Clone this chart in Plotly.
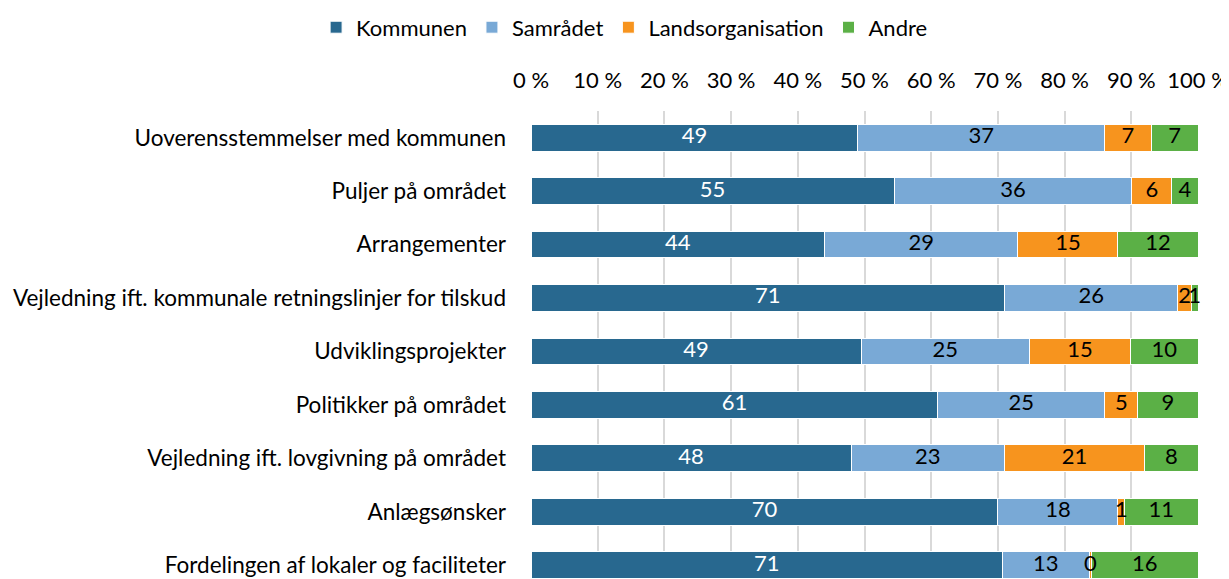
import plotly.graph_objects as go

categories = [
    "Uoverensstemmelser med kommunen",
    "Puljer på området",
    "Arrangementer",
    "Vejledning ift. kommunale retningslinjer for tilskud",
    "Udviklingsprojekter",
    "Politikker på området",
    "Vejledning ift. lovgivning på området",
    "Anlægsønsker",
    "Fordelingen af lokaler og faciliteter",
]
kommunen = [49, 55, 44, 71, 49, 61, 48, 70, 71]
samraadet = [37, 36, 29, 26, 25, 25, 23, 18, 13]
landsorg = [7, 6, 15, 2, 15, 5, 21, 1, 0.4]
andre = [7, 4, 12, 1, 10, 9, 8, 11, 16]
tick_vals = [0, 10, 20, 30, 40, 50, 60, 70, 80, 90, 100]
tick_text = [f"{v} %" for v in tick_vals]

series = [
    ("Kommunen", kommunen, "#28688F", "white"),
    ("Samrådet", samraadet, "#79A9D6", "black"),
    ("Landsorganisation", landsorg, "#F7941E", "black"),
    ("Andre", andre, "#5BB046", "black"),
]

FONT = "Lato"
FS = 22
fig = go.Figure()
for name, vals, color, tcolor in series:
    fig.add_trace(go.Bar(
        y=categories, x=vals, name=name, orientation="h",
        marker=dict(color=color, line=dict(color="white", width=1)),
        hoverinfo="x+y+name",
    ))

# value labels on top of all bars (centred in each normalised segment)
totals = [sum(s[1][i] for s in series) for i in range(len(categories))]
cum = [0.0] * len(categories)
for name, vals, color, tcolor in series:
    mids = []
    for i, v in enumerate(vals):
        mids.append((cum[i] + v / 2) / totals[i] * 100)
        cum[i] += v
    fig.add_trace(go.Scatter(
        y=categories, x=mids, mode="text",
        text=[f"{round(v):d}" for v in vals],
        textposition="middle center",
        textfont=dict(color=tcolor, size=FS, family=FONT),
        showlegend=False, hoverinfo="skip", cliponaxis=False,
    ))

fig.update_layout(
    barmode="stack", barnorm="percent",
    width=1221, height=571,
    margin=dict(l=523, r=31, t=103, b=0, autoexpand=False),
    plot_bgcolor="white", paper_bgcolor="white",
    font=dict(family=FONT, size=FS, color="black"),
    bargap=0.5,
    legend=dict(orientation="h", xref="container", yref="container",
                x=0.505, xanchor="center", y=0.966, yanchor="middle",
                font=dict(size=FS, family=FONT), itemwidth=30,
                traceorder="normal"),
    showlegend=True,
)
fig.update_xaxes(
    side="top", range=[0, 100], tickvals=tick_vals, ticktext=tick_text,
    showgrid=True, gridcolor="#D9D9D9", gridwidth=1.5, zeroline=False,
    ticklabelstandoff=18, tickfont=dict(size=FS), automargin=False,
)
fig.update_yaxes(
    autorange=False, range=[8.26, -0.5], categoryorder="array",
    categoryarray=categories, ticklabelstandoff=24, tickfont=dict(size=22.5),
    showline=False, automargin=False,
)
fig.write_html("out.html", post_script="document.body.style.overflow='hidden';")
